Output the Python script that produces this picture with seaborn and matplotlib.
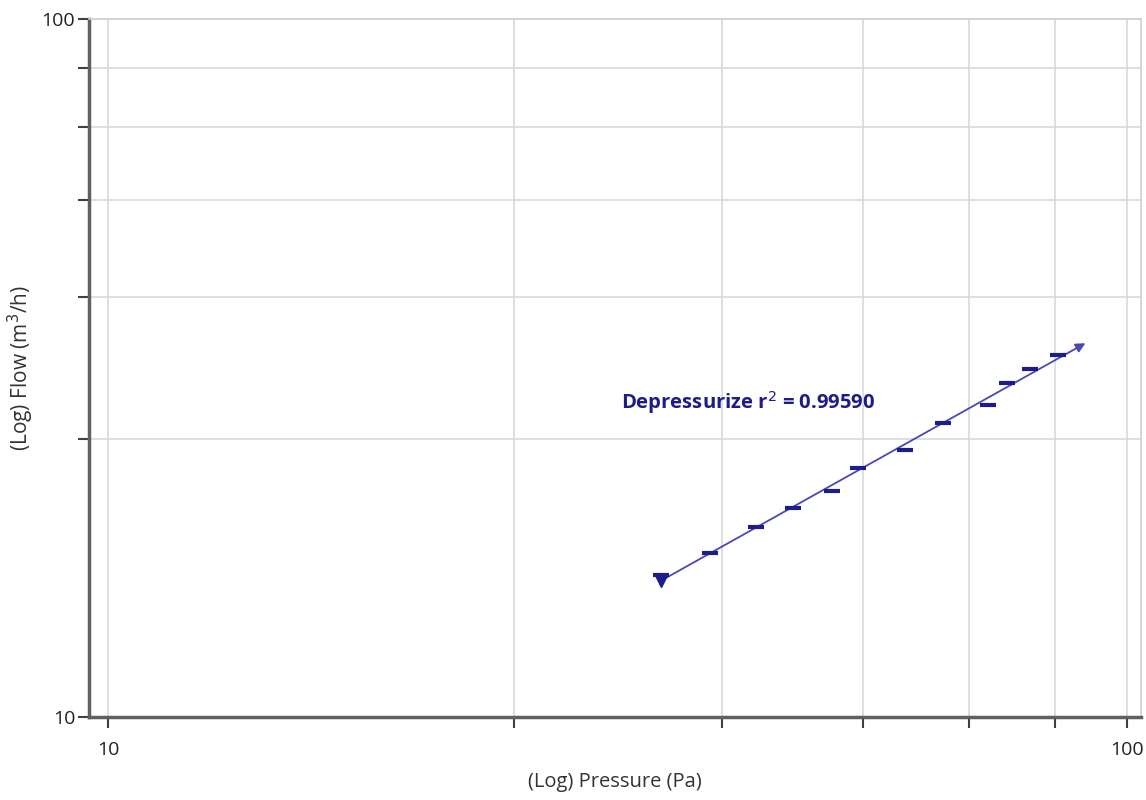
import numpy as np
import pandas as pd
import matplotlib
matplotlib.use("Agg")
import matplotlib.pyplot as plt
import seaborn as sns
from matplotlib.ticker import FixedLocator, NullLocator, FixedFormatter

# pressure (Pa) / flow (m3/h) readings, depressurize test
pressure = [34.9, 39.0, 43.2, 47.0, 51.3, 54.5, 60.5, 65.9, 73.1, 76.3, 80.3, 85.6]
flow = [15.95, 17.2, 18.7, 19.9, 21.1, 22.7, 24.1, 26.4, 28.0, 30.1, 31.5, 33.0]
fit_range = [34.9, 91.0]          # extent of the fitted line
grid_ticks = [10, 25, 40, 55, 70, 85, 100]
tick_labels = ["10", "", "", "", "", "", "100"]
fit_label = "Depressurize r$^2$ = 0.99590"

sns.set_theme(style="white")
plt.rcParams['font.family'] = ['Open Sans', 'DejaVu Sans']

df = pd.DataFrame({"Pressure": pressure, "Flow": flow})

fig = plt.figure(figsize=(11.46, 8), dpi=100)
ax = fig.add_axes([0.0777, 0.10375, 0.918, 0.8725])
ax.set_xscale("log")
ax.set_yscale("log")

# power-law fit in log space
n, logc = np.polyfit(np.log10(pressure), np.log10(flow), 1)
fx = np.array(fit_range)
fy = 10 ** logc * fx ** n

line_col = "#4848b8"
mark_col = "#1c1c8a"

ax.annotate("", xy=(fx[1], fy[1]), xytext=(fx[0], fy[0]),
            arrowprops=dict(arrowstyle="-|>", color=line_col, lw=1.3,
                            mutation_scale=14, shrinkA=0, shrinkB=0), zorder=3)
sns.scatterplot(data=df, x="Pressure", y="Flow", marker="_", s=140,
                linewidth=3, color=mark_col, ax=ax, zorder=4)
ax.plot([fx[0]], [fy[0]], marker="v", color=mark_col, markersize=8, zorder=4)

ax.text(42.5, 28.2, fit_label, color=mark_col, fontsize=14.6,
        fontweight="bold", ha="center", va="center")

ax.set_xlim(9.58, 103.2)
ax.set_ylim(10, 100)
for axis in (ax.xaxis, ax.yaxis):
    axis.set_major_locator(FixedLocator(grid_ticks))
    axis.set_major_formatter(FixedFormatter(tick_labels))
    axis.set_minor_locator(NullLocator())

ax.grid(True, color="#d9d9d9", linewidth=1.2, zorder=0)
ax.set_axisbelow(True)
for side in ("left", "bottom"):
    ax.spines[side].set_color("#606060")
    ax.spines[side].set_linewidth(2.5)
for side in ("top", "right"):
    ax.spines[side].set_color("#d0d0d0")
    ax.spines[side].set_linewidth(1.2)
ax.tick_params(axis="both", direction="out", length=8, width=1.5,
               color="#404040", labelsize=14, labelcolor="#222222",
               left=True, bottom=True)
ax.tick_params(axis="x", pad=9)
ax.tick_params(axis="y", pad=2)

ax.set_xlabel("(Log) Pressure (Pa)", fontsize=14.5, color="#333333", labelpad=10)
ax.set_ylabel("(Log) Flow (m$^3$/h)", fontsize=15, color="#333333", labelpad=4)

fig.savefig("out.png", dpi=100)
